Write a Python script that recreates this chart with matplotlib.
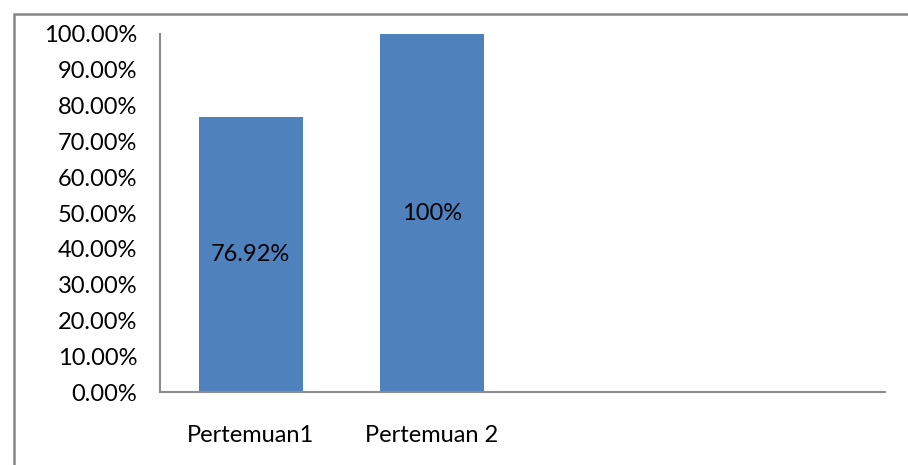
import matplotlib
matplotlib.use("Agg")
import matplotlib.pyplot as plt
from matplotlib.patches import Rectangle
from matplotlib.ticker import FuncFormatter

categories = ["Pertemuan1", "Pertemuan 2", "", ""]
values = [76.92, 100.0, None, None]
bar_labels = ["76.92%", "100%", "", ""]
yticks = [0, 10, 20, 30, 40, 50, 60, 70, 80, 90, 100]

plt.rcParams['font.family'] = ['Lato', 'DejaVu Sans']
FS = 17

W, H = 908, 465
fig = plt.figure(figsize=(W / 100, H / 100), dpi=100)
ax = fig.add_axes([160 / W, (H - 392) / H, (885 - 160) / W, (392 - 34) / H])

xs = list(range(len(categories)))
for x, v, lab in zip(xs, values, bar_labels):
    if v is None:
        continue
    ax.bar(x, v, width=0.575, color="#4F81BD", zorder=2)
    ax.text(x, v / 2, lab, ha="center", va="center", fontsize=FS, color="black", zorder=3)

ax.set_xlim(-0.5, len(categories) - 0.5)
ax.set_ylim(0, 100)
ax.set_yticks(yticks)
ax.yaxis.set_major_formatter(FuncFormatter(lambda v, p: f"{v:.2f}%"))
ax.set_xticks(xs)
ax.set_xticklabels(categories)
ax.tick_params(axis="y", length=0, pad=16.5, labelsize=FS)
ax.tick_params(axis="x", length=0, pad=24, labelsize=FS)

for s in ["top", "right"]:
    ax.spines[s].set_visible(False)
for s in ["left", "bottom"]:
    ax.spines[s].set_color("#8C8C8C")
    ax.spines[s].set_linewidth(1.5)

fig.patches.append(Rectangle((13.5 / W, -0.1), 2.0, (H - 14) / H + 0.1,
                             transform=fig.transFigure, fill=False,
                             edgecolor="#878787", linewidth=1.8, zorder=0))

fig.savefig("out.png", dpi=100)
